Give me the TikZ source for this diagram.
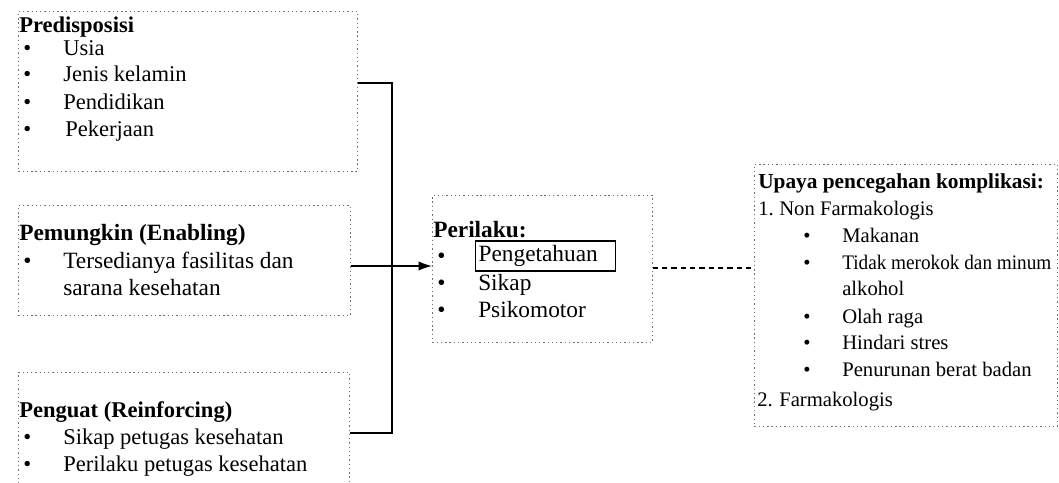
\documentclass[tikz,border=0pt]{standalone}
\usepackage{fontspec}
\setmainfont{Liberation Serif}
\usetikzlibrary{arrows.meta}
\begin{document}
\begin{tikzpicture}[x=0.75pt,y=-0.75pt,
  txt/.style={anchor=mid west,inner sep=0pt,font=\fontsize{16.9}{20}\selectfont},
  hd/.style={txt,font=\fontsize{16.9}{20}\selectfont\bfseries},
  big/.style={font=\fontsize{17.5}{20}\selectfont},
  bigb/.style={font=\fontsize{17.5}{20}\selectfont\bfseries},
  sml/.style={font=\fontsize{15.5}{18}\selectfont},
  smlb/.style={font=\fontsize{16}{18}\selectfont\bfseries},
  bul/.style={txt},
  frame/.style={draw=black!55,line width=0.6pt,dash pattern=on 1pt off 2.2pt,rectangle,inner sep=0pt,anchor=north west},
  link/.style={draw=black,line width=1.1pt},
  dlink/.style={draw=black,line width=0.9pt,dash pattern=on 4pt off 3pt}]
\useasboundingbox (0,0) rectangle (1059,482);
% frames
\node[frame,minimum width=339*0.75pt,minimum height=160*0.75pt] (b1) at (18,11) {};
\node[frame,minimum width=332*0.75pt,minimum height=110*0.75pt] (b2) at (18,205) {};
\node[frame,minimum width=331*0.75pt,minimum height=120*0.75pt] (b3) at (18,372) {};
\node[frame,minimum width=220*0.75pt,minimum height=147*0.75pt] (b4) at (432,195) {};
\node[frame,minimum width=303*0.75pt,minimum height=262*0.75pt] (b5) at (754,164) {};
% box 1
\node[hd] (t11) at (19,29) {Predisposisi};
\node[bul] (u11) at (23,52) {\textbullet}; \node[txt] (t12) at (63,52) {Usia};
\node[bul] (u12) at (23,78) {\textbullet}; \node[txt] (t13) at (63,78) {Jenis kelamin};
\node[bul] (u13) at (23,106) {\textbullet}; \node[txt] (t14) at (63,106) {Pendidikan};
\node[bul] (u14) at (23,133) {\textbullet}; \node[txt] (t15) at (65,133) {Pekerjaan};
% box 2
\node[hd,bigb] (t21) at (19,237) {Pemungkin (Enabling)};
\node[bul,big] (u21) at (23,265) {\textbullet}; \node[txt,big] (t22) at (63,265) {Tersedianya fasilitas dan};
\node[txt,big] (t23) at (63,292) {sarana kesehatan};
% box 3
\node[hd] (t31) at (19,414) {Penguat (Reinforcing)};
\node[bul] (u31) at (23,441) {\textbullet}; \node[txt] (t32) at (63,441) {Sikap petugas kesehatan};
\node[bul] (u32) at (23,468) {\textbullet}; \node[txt] (t33) at (63,468) {Perilaku petugas kesehatan};
% box 4
\node[hd,bigb] (t41) at (433,234) {Perilaku:};
\node[bul,big] (u41) at (437,260) {\textbullet};
\node[txt,big,draw=black,line width=0.9pt,anchor=west,inner xsep=3*0.75pt,minimum height=30*0.75pt,text width=134*0.75pt,align=left] (t42) at (475,256) {Pengetahuan};
\node[bul,big] (u42) at (437,287) {\textbullet}; \node[txt,big] (t43) at (478,287) {Sikap};
\node[bul,big] (u43) at (437,314) {\textbullet}; \node[txt,big] (t44) at (478,314) {Psikomotor};
% box 5
\node[hd,smlb] (t51) at (758,185) {Upaya pencegahan komplikasi:};
\node[txt,sml] (t52) at (758,212) {1.}; \node[txt,sml] (t53) at (779,212) {Non Farmakologis};
\node[bul,sml] (u51) at (803,239) {\textbullet}; \node[txt,sml] (t54) at (842,239) {Makanan};
\node[bul,sml] (u52) at (803,266) {\textbullet}; \node[txt,sml] (t55) at (842,266) {\scalebox{0.93}[1]{Tidak merokok dan minum}};
\node[txt,sml] (t56) at (842,292) {alkohol};
\node[bul,sml] (u53) at (803,320) {\textbullet}; \node[txt,sml] (t57) at (842,320) {Olah raga};
\node[bul,sml] (u54) at (803,346) {\textbullet}; \node[txt,sml] (t58) at (842,346) {Hindari stres};
\node[bul,sml] (u55) at (803,373) {\textbullet}; \node[txt,sml] (t59) at (842,373) {Penurunan berat badan};
\node[txt,sml] (t5a) at (757,403) {2.}; \node[txt,sml] (t5b) at (779,403) {Farmakologis};
% connectors
\coordinate (j1) at (392,83);
\coordinate (j2) at (392,266);
\coordinate (j3) at (392,433);
\coordinate (jd) at (700,268);
\draw[link] (b1.east|-j1) -- (j1) -- (j3) -- (b3.east|-j3);
\draw[link,-{Latex[length=10pt,width=7pt]}] (b2.east|-j2) -- (b4.west|-j2);
\draw[dlink] (b4.east|-jd) -- (b5.west|-jd);
\end{tikzpicture}
\end{document}
